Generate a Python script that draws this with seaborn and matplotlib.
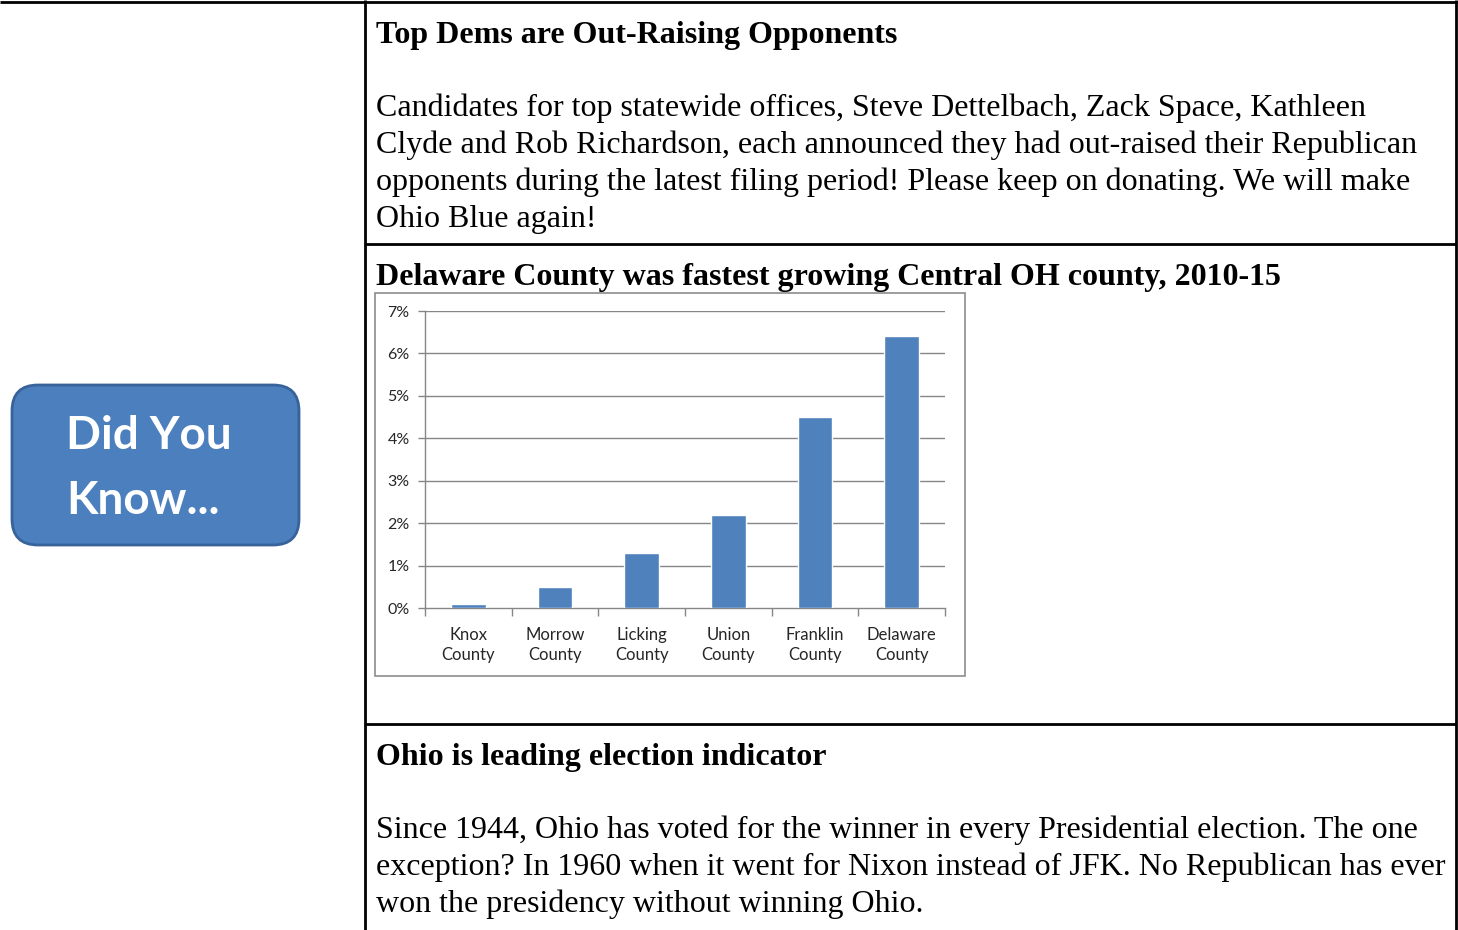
import matplotlib
matplotlib.use("Agg")
import matplotlib.pyplot as plt
from matplotlib.patches import FancyBboxPatch, Rectangle
import seaborn as sns
import pandas as pd

# ---- data ----
counties = ["Knox\nCounty", "Morrow\nCounty", "Licking\nCounty", "Union\nCounty",
            "Franklin\nCounty", "Delaware\nCounty"]
growth = [0.1, 0.5, 1.3, 2.2, 4.5, 6.4]
yticks = [0, 1, 2, 3, 4, 5, 6, 7]
ytick_labels = ["0%", "1%", "2%", "3%", "4%", "5%", "6%", "7%"]

title1 = "Top Dems are Out-Raising Opponents"
body1 = ["Candidates for top statewide offices, Steve Dettelbach, Zack Space, Kathleen",
         "Clyde and Rob Richardson, each announced they had out-raised their Republican",
         "opponents during the latest filing period! Please keep on donating. We will make",
         "Ohio Blue again!"]
title2 = "Delaware County was fastest growing Central OH county, 2010-15"
title3 = "Ohio is leading election indicator"
body3 = ["Since 1944, Ohio has voted for the winner in every Presidential election. The one",
         "exception? In 1960 when it went for Nixon instead of JFK. No Republican has ever",
         "won the presidency without winning Ohio."]
button_lines = ["Did You", "Know..."]

sns.set_theme(style="white")
plt.rcParams['font.family'] = ['Liberation Serif', 'DejaVu Serif']
plt.rcParams['text.color'] = 'black'

W, H = 1458, 930
fig = plt.figure(figsize=(W / 100, H / 100), dpi=100)
fig.patch.set_facecolor("white")

# overlay in pixel coordinates
ov = fig.add_axes([0, 0, 1, 1])
ov.set_xlim(0, W)
ov.set_ylim(H, 0)
ov.axis("off")

lw = 2.0
ov.plot([0, W], [2, 2], color="black", lw=lw, solid_capstyle="butt")
ov.plot([365, 365], [0, H], color="black", lw=lw, solid_capstyle="butt")
ov.plot([1456, 1456], [0, H], color="black", lw=lw, solid_capstyle="butt")
ov.plot([365, 1456], [244, 244], color="black", lw=lw, solid_capstyle="butt")
ov.plot([365, 1456], [724, 724], color="black", lw=lw, solid_capstyle="butt")

fs = 23
tx = 376
ov.text(tx, 43, title1, fontsize=fs, fontweight="bold", va="baseline", ha="left", color="black")
for i, line in enumerate(body1):
    ov.text(tx, 116 + 37 * i, line, fontsize=fs, va="baseline", ha="left", color="black")
ov.text(tx, 285, title2, fontsize=fs, fontweight="bold", va="baseline", ha="left", color="black")
ov.text(tx, 765, title3, fontsize=fs, fontweight="bold", va="baseline", ha="left", color="black")
for i, line in enumerate(body3):
    ov.text(tx, 838 + 37 * i, line, fontsize=fs, va="baseline", ha="left", color="black")

# button
btn = FancyBboxPatch((12, 385), 287, 160, boxstyle="round,pad=0,rounding_size=26",
                     facecolor="#4B7FBE", edgecolor="#38629A", lw=2)
ov.add_patch(btn)
ov.text(66, 449, button_lines[0], fontsize=33, fontweight="bold", color="white",
        family=["Lato", "DejaVu Sans"], va="baseline", ha="left")
ov.text(66, 514, button_lines[1], fontsize=33, fontweight="bold", color="white",
        family=["Lato", "DejaVu Sans"], va="baseline", ha="left")

# chart frame
ov.add_patch(Rectangle((375, 293), 590, 383, facecolor="white", edgecolor="#8C8C8C", lw=1.2))

# chart axes
ax = fig.add_axes([425 / W, 1 - 608 / H, 520 / W, 297 / H])
ax.set_facecolor("none")
df = pd.DataFrame({"county": counties, "growth": growth})
sns.barplot(data=df, x="county", y="growth", color="#4F81BD", saturation=1,
            width=0.4, ax=ax, zorder=3)
ax.set_xlim(-0.5, 5.5)
ax.set_ylim(0, 7)
ax.set_yticks(yticks)
ax.set_yticklabels(ytick_labels)
ax.set_xlabel("")
ax.set_ylabel("")
gridc = "#868686"
for y in yticks[1:]:
    ax.axhline(y, color=gridc, lw=1, zorder=1)
for s in ["top", "right"]:
    ax.spines[s].set_visible(False)
for s in ["left", "bottom"]:
    ax.spines[s].set_color(gridc)
    ax.spines[s].set_linewidth(1)
ax.tick_params(axis="y", which="major", left=True, direction="out", length=5, width=1,
               color=gridc, pad=6, labelsize=11.5, labelcolor="#262626")
ax.set_xticks([i for i in range(6)])
ax.set_xticklabels(counties, fontsize=12, color="#262626", family=["Lato", "DejaVu Sans"],
                   linespacing=1.3)
ax.tick_params(axis="x", which="major", bottom=True, length=0, pad=14)
for lab in ax.get_yticklabels():
    lab.set_family(["Lato", "DejaVu Sans"])
ax.set_xticks([i - 0.5 for i in range(7)], minor=True)
ax.tick_params(axis="x", which="minor", bottom=True, direction="out", length=6, width=1,
               color=gridc)

fig.savefig("out.png", dpi=100)
